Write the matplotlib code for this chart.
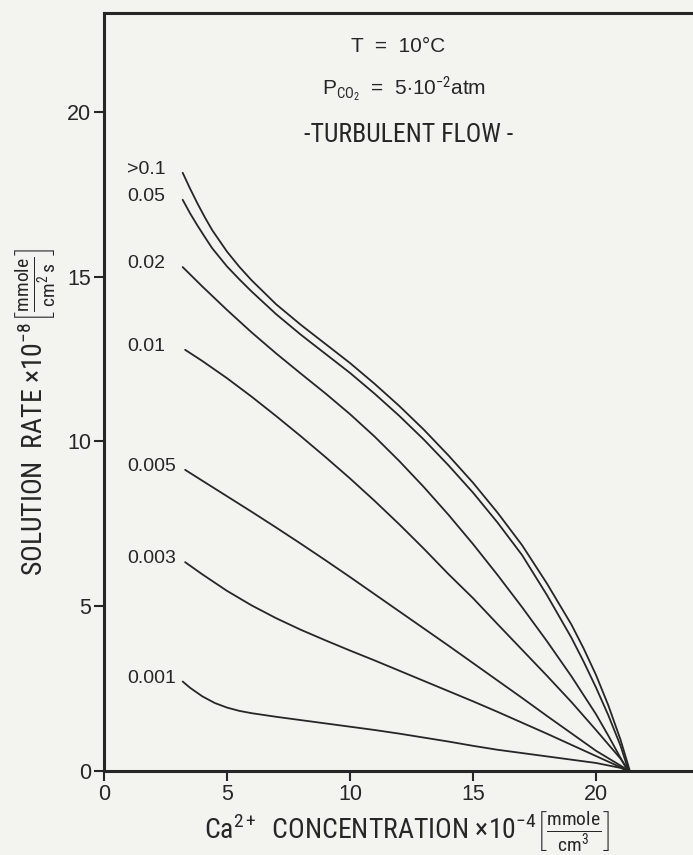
import matplotlib.pyplot as plt
from matplotlib import font_manager

# Ca2+ concentration (x 10^-4 mmole/cm3) against solution rate (x 10^-8 mmole/cm2 s)
conc_gt01 = [3.2, 3.5, 3.8, 4.1, 4.4, 5.0, 5.5, 6.0, 7.0, 8.0, 9.0, 10.0, 11.0, 12.0, 13.0,
             14.0, 15.0, 16.0, 17.0, 18.0, 19.0, 19.5, 20.0, 20.5, 21.0, 21.38]
rate_gt01 = [18.15, 17.67, 17.22, 16.80, 16.41, 15.76, 15.30, 14.89, 14.16, 13.54, 12.96, 12.38, 11.75,
             11.08, 10.36, 9.58, 8.75, 7.84, 6.85, 5.70, 4.45, 3.72, 2.92, 2.00, 0.95, 0.0]

conc_005 = [3.2, 3.5, 3.8, 4.1, 4.4, 5.0, 5.5, 6.0, 7.0, 8.0, 9.0, 10.0, 11.0, 12.0, 13.0,
            14.0, 15.0, 16.0, 17.0, 18.0, 19.0, 19.5, 20.0, 20.5, 21.0, 21.33]
rate_005 = [17.33, 16.92, 16.55, 16.20, 15.86, 15.31, 14.92, 14.55, 13.86, 13.24, 12.66, 12.08, 11.45,
            10.78, 10.06, 9.28, 8.45, 7.54, 6.55, 5.35, 4.05, 3.32, 2.54, 1.70, 0.77, 0.0]

conc_002 = [3.2, 4.0, 5.0, 6.0, 7.0, 8.0, 9.0, 10.0, 11.0, 12.0, 13.0, 14.0, 15.0, 16.0, 17.0,
            18.0, 19.0, 20.0, 20.5, 21.0, 21.3]
rate_002 = [15.29, 14.70, 13.99, 13.31, 12.67, 12.06, 11.46, 10.83, 10.15, 9.41, 8.62, 7.78, 6.89,
            5.95, 4.97, 3.95, 2.88, 1.73, 1.08, 0.40, 0.0]

conc_001 = [3.3, 4.0, 5.0, 6.0, 7.0, 8.0, 9.0, 10.0, 11.0, 12.0, 13.0, 14.0, 15.0, 16.0, 17.0,
            18.0, 19.0, 20.0, 21.0, 21.35]
rate_001 = [12.78, 12.44, 11.92, 11.36, 10.77, 10.16, 9.53, 8.88, 8.20, 7.49, 6.75, 5.98, 5.25,
            4.46, 3.68, 2.90, 2.10, 1.25, 0.38, 0.0]

conc_0005 = [3.3, 4.0, 5.0, 6.0, 7.0, 8.0, 9.0, 10.0, 11.0, 12.0, 13.0, 14.0, 15.0, 16.0, 17.0,
             18.0, 19.0, 20.0, 21.0, 21.35]
rate_0005 = [9.14, 8.81, 8.34, 7.87, 7.39, 6.90, 6.40, 5.89, 5.37, 4.85, 4.33, 3.81, 3.28, 2.75,
             2.22, 1.68, 1.15, 0.62, 0.17, 0.0]

conc_0003 = [3.3, 4.0, 5.0, 6.0, 7.0, 8.0, 9.0, 10.0, 11.0, 12.0, 13.0, 14.0, 15.0, 16.0, 17.0,
             18.0, 19.0, 20.0, 21.0, 21.35]
rate_0003 = [6.34, 5.97, 5.47, 5.03, 4.64, 4.29, 3.97, 3.66, 3.36, 3.05, 2.74, 2.43, 2.12, 1.80,
             1.47, 1.14, 0.80, 0.46, 0.12, 0.0]

conc_0001 = [3.2, 3.5, 4.0, 4.5, 5.0, 5.5, 6.0, 7.0, 8.0, 9.0, 10.0, 11.0, 12.0, 13.0, 14.0,
             15.0, 16.0, 17.0, 18.0, 19.0, 20.0, 21.0, 21.35]
rate_0001 = [2.72, 2.53, 2.27, 2.07, 1.93, 1.83, 1.76, 1.65, 1.55, 1.45, 1.35, 1.25, 1.14, 1.02,
             0.90, 0.77, 0.65, 0.55, 0.45, 0.35, 0.25, 0.10, 0.0]

curve_labels = ['>0.1', '0.05', '0.02', '0.01', '0.005', '0.003', '0.001']
curves = [
    (conc_gt01, rate_gt01),
    (conc_005, rate_005),
    (conc_002, rate_002),
    (conc_001, rate_001),
    (conc_0005, rate_0005),
    (conc_0003, rate_0003),
    (conc_0001, rate_0001),
]

ticks = [0, 5, 10, 15, 20]

ink = '#262626'
paper = '#f3f3f0'

# narrow lettering for the axis titles, if a condensed face is around
installed = {f.name for f in font_manager.fontManager.ttflist}
narrow_face = next((f for f in ['Liberation Sans Narrow', 'DejaVu Sans Condensed',
                                'Roboto Condensed', 'Liberation Sans'] if f in installed),
                   'DejaVu Sans')
narrow = [narrow_face, 'DejaVu Sans']
plain = ['Liberation Sans', 'DejaVu Sans']

plt.rcParams['mathtext.fontset'] = 'custom'
plt.rcParams['mathtext.rm'] = narrow_face
plt.rcParams['mathtext.it'] = narrow_face

fig = plt.figure(figsize=(6.93, 8.55), dpi=100, facecolor=paper)
ax = fig.add_axes([0.150, 0.098, 0.852, 0.887], facecolor=paper)

for (x, y), lab in zip(curves, curve_labels):
    ax.plot(x, y, color=ink, lw=1.3, solid_capstyle='round', solid_joinstyle='round')
    ax.text(0.95, y[0] + 0.1, lab, ha='left', va='center', fontsize=14,
            family=plain, color=ink)

ax.set_xlim(0, 24)
ax.set_ylim(0, 23)
ax.set_xticks(ticks)
ax.set_yticks(ticks)
ax.tick_params(direction='out', length=7, width=1.5, color=ink,
               labelsize=15.5, labelcolor=ink, pad=2)
for t in ax.get_xticklabels() + ax.get_yticklabels():
    t.set_family(plain)

ax.spines['right'].set_visible(False)
for side in ['left', 'bottom', 'top']:
    ax.spines[side].set_linewidth(2.2)
    ax.spines[side].set_color(ink)

ax.text(11.95, 21.97, 'T  =  10°C', ha='center', va='center',
        fontsize=15, family=plain, color=ink)
ax.text(12.2, 20.7, r'P$_{\mathrm{CO}_2}$  =  5$\cdot$10$^{-2}$atm', ha='center',
        va='center', fontsize=15, family=plain, color=ink)
ax.text(12.38, 19.3, '-TURBULENT FLOW -', ha='center', va='center',
        fontsize=18.5, family=narrow, color=ink)

ax.set_xlabel(r'Ca$^{2+}$  CONCENTRATION $\times$10$^{-4}$$\left[\frac{\mathrm{mmole}}{\mathrm{cm^3}}\right]$',
              fontsize=20, family=narrow, color=ink, va='top')
ax.xaxis.set_label_coords(0.514, -0.05)
ax.set_ylabel(r'SOLUTION  RATE $\times$10$^{-8}$$\left[\frac{\mathrm{mmole}}{\mathrm{cm^2\,s}}\right]$',
              fontsize=20, family=narrow, color=ink)
ax.yaxis.set_label_coords(-0.078, 0.474)

plt.savefig('out.png', dpi=100, facecolor=paper)
